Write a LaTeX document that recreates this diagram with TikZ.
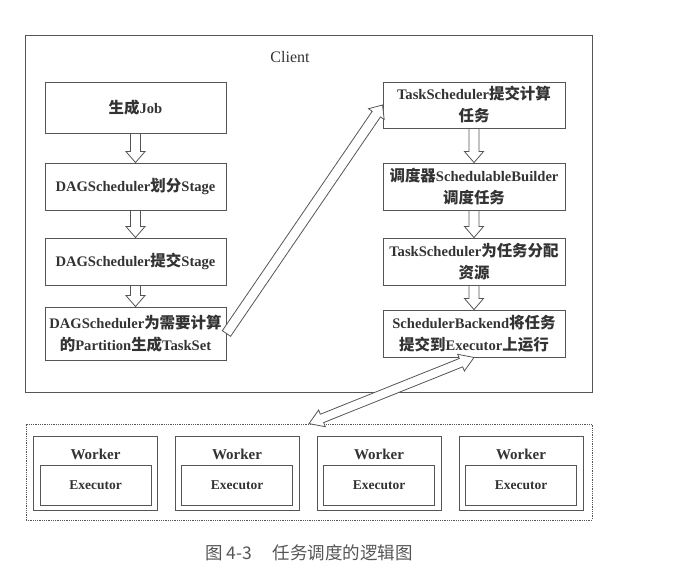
\documentclass[tikz,border=0pt]{standalone}
\usepackage{fontspec}
\setmainfont{Liberation Serif}
\newfontfamily\cjk[Scale=1.06]{Noto Sans CJK SC}
\newfontfamily\capfont{Noto Sans CJK SC}
\usetikzlibrary{calc}
\definecolor{linegray}{HTML}{555555}
\definecolor{textgray}{HTML}{333333}
\definecolor{capgray}{HTML}{555555}
\newcommand\zh[1]{{\cjk #1}}
% hollow single-headed arrow from #1 to #2
\newcommand\hollowarrow[2]{%
  \coordinate (hb) at ($(#2)!11pt!(#1)$);
  \draw[arrowline] ($(#1)!5pt!90:(#2)$) -- ($(hb)!5pt!90:(#2)$) -- ($(hb)!9.5pt!90:(#2)$) -- (#2)
    -- ($(hb)!9.5pt!-90:(#2)$) -- ($(hb)!5pt!-90:(#2)$) -- ($(#1)!5pt!-90:(#2)$) -- cycle;
}
% hollow double-headed arrow between #1 and #2
\newcommand\hollowtwoway[2]{%
  \coordinate (ha) at ($(#1)!14pt!(#2)$);
  \coordinate (hb) at ($(#2)!14pt!(#1)$);
  \draw[arrowline] (#1) -- ($(ha)!9pt!90:(#2)$) -- ($(ha)!4.5pt!90:(#2)$) -- ($(hb)!4.5pt!90:(#2)$)
    -- ($(hb)!9pt!90:(#2)$) -- (#2) -- ($(hb)!9pt!-90:(#2)$) -- ($(hb)!4.5pt!-90:(#2)$)
    -- ($(ha)!4.5pt!-90:(#2)$) -- ($(ha)!9pt!-90:(#2)$) -- cycle;
}
\tikzset{
  box/.style={draw=linegray, line width=0.9pt, align=center, text=textgray, inner sep=0pt,
    font=\fontsize{14.6}{22}\selectfont\bfseries},
  leftbox/.style={box, minimum width=181pt},
  rightbox/.style={box, minimum width=182pt},
  arrowline/.style={draw=linegray, line width=0.8pt, fill=white, line join=miter},
  frame/.style={draw=linegray, line width=0.9pt, inner sep=0pt},
  workerbox/.style={draw=linegray, line width=0.9pt, inner sep=0pt, minimum width=124pt, minimum height=74pt},
  execbox/.style={draw=linegray, line width=0.9pt, inner sep=0pt, minimum width=111pt, minimum height=40pt,
    text=textgray, font=\fontsize{13.5}{16}\selectfont\bfseries},
  workerlabel/.style={text=textgray, inner sep=0pt, font=\fontsize{15}{17}\selectfont\bfseries},
}
\begin{document}
\begin{tikzpicture}[x=1pt,y=-1pt]
\useasboundingbox (0,0) rectangle (686,580);
% Client frame
\node[frame, minimum width=567pt, minimum height=357pt] (client) at (308.5,213.5) {};
\node[text=textgray, inner sep=0pt, font=\fontsize{16}{18}\selectfont] (clientlabel) at (290,57) {Client};
% left column
\node[leftbox, minimum height=51pt] (b1) at (135.5,107.5) {\zh{生成}Job};
\node[leftbox, minimum height=47pt] (b2) at (135.5,186.5) {DAGScheduler\zh{划分}Stage};
\node[leftbox, minimum height=47pt] (b3) at (135.5,261.5) {DAGScheduler\zh{提交}Stage};
\node[leftbox, minimum height=53pt] (b4) at (135.5,333.5) {DAGScheduler\zh{为需要计算}\\\zh{的}Partition\zh{生成}TaskSet};
% right column
\node[rightbox, minimum height=46pt] (r1) at (474,105) {TaskScheduler\zh{提交计算}\\\zh{任务}};
\node[rightbox, minimum height=47pt] (r2) at (474,186.5) {\zh{调度器}SchedulableBuilder\\\zh{调度任务}};
\node[rightbox, minimum height=47pt] (r3) at (474,261.5) {TaskScheduler\zh{为任务分配}\\\zh{资源}};
\node[rightbox, minimum height=47pt] (r4) at (474,333.5) {SchedulerBackend\zh{将任务}\\\zh{提交到}Executor\zh{上运行}};
% vertical hollow arrows
\hollowarrow{b1.south}{b2.north}
\hollowarrow{b2.south}{b3.north}
\hollowarrow{b3.south}{b4.north}
\hollowarrow{r1.south}{r2.north}
\hollowarrow{r2.south}{r3.north}
\hollowarrow{r3.south}{r4.north}
% diagonal arrow
\hollowarrow{b4.east}{r1.west}
% worker area
\node[draw=linegray, line width=0.8pt, densely dotted, inner sep=0pt, minimum width=566pt, minimum height=96pt] (workers) at (309,472) {};
\foreach \i/\x in {1/95.5, 2/237, 3/379, 4/521}{
  \node[workerbox] (w\i) at (\x,473) {};
  \node[workerlabel] (wl\i) at (\x,454) {Worker};
  \node[execbox] (e\i) at (\x,485) {Executor};
}
% two-way arrow
\hollowtwoway{workers.north}{r4.south}
% caption
\node[text=capgray, inner sep=0pt, font=\fontsize{17.5}{20}\capfont] (caption) at (309,553) {图 4-3\hspace{1.2em}任务调度的逻辑图};
\end{tikzpicture}
\end{document}
